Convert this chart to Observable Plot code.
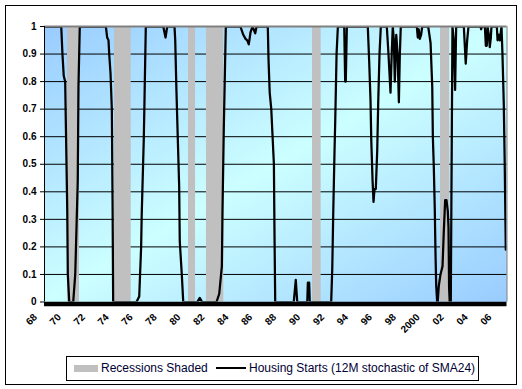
<!DOCTYPE html>
<html>
<head>
<meta charset="utf-8">
<script src="https://cdn.jsdelivr.net/npm/d3@7"></script>
<script src="https://cdn.jsdelivr.net/npm/@observablehq/plot@0.6"></script>
<style>
  html, body { margin: 0; padding: 0; background: #fff; }
  #wrap { position: relative; width: 522px; height: 389px; overflow: hidden; font-family: "Liberation Sans", Arial, sans-serif; }
  #wrap svg { position: absolute; left: 0; top: 0; }
  #outer { position: absolute; left: 5px; top: 5px; width: 512px; height: 380px; border: 1px solid #000; box-sizing: border-box; pointer-events: none; }
  #legend { position: absolute; left: 66px; top: 356px; width: 413px; height: 25px; border: 1px solid #000; box-sizing: border-box; background: #fff; font-size: 12px; color: #000033; }
  #legend span { position: absolute; white-space: nowrap; }
</style>
</head>
<body>
<div id="wrap">
  <div id="outer"></div>
</div>
<script>
// ---- data ----
const yTicks = [0, 0.1, 0.2, 0.3, 0.4, 0.5, 0.6, 0.7, 0.8, 0.9, 1];
const xTickYears = [1968, 1970, 1972, 1974, 1976, 1978, 1980, 1982, 1984, 1986, 1988, 1990, 1992, 1994, 1996, 1998, 2000, 2002, 2004, 2006];
const xTickLabels = ["68", "70", "72", "74", "76", "78", "80", "82", "84", "86", "88", "90", "92", "94", "96", "98", "2000", "02", "04", "06"];

const recStart = [1969.92, 1973.85, 1980.04, 1981.54, 1990.41, 2001.11];
const recEnd   = [1970.93, 1975.25, 1980.63, 1982.99, 1991.13, 2001.88];

const housingT = [1968.00, 1969.40, 1969.50, 1969.61, 1969.73, 1969.78, 1969.90, 1969.95, 1970.07, 1970.40, 1970.57, 1970.78, 1970.84, 1970.95,
  1973.13, 1973.24, 1973.35, 1973.41, 1973.52, 1973.63, 1973.69, 1973.74,
  1975.69, 1975.92, 1976.08, 1976.13, 1976.30, 1976.36, 1976.47,
  1977.93, 1978.12, 1978.26,
  1978.87, 1978.93, 1979.03, 1979.14, 1979.26, 1979.31, 1979.48, 1979.60,
  1980.77, 1980.98, 1981.18,
  1982.38, 1982.61, 1982.83, 1982.88, 1982.99, 1983.16,
  1984.38, 1984.62, 1984.81, 1984.95, 1985.08, 1985.23, 1985.39, 1985.62, 1985.73,
  1986.67, 1986.73, 1986.83, 1986.96, 1987.07, 1987.18, 1987.23, 1987.29,
  1988.84, 1989.01, 1989.13,
  1989.97, 1990.02, 1990.13, 1990.18,
  1991.97, 1992.06, 1992.14, 1992.25, 1992.31, 1992.42, 1992.53,
  1993.06, 1993.14, 1993.19, 1993.28,
  1995.03, 1995.15, 1995.26, 1995.32, 1995.43, 1995.51, 1995.59, 1995.70, 1995.82, 1995.90, 1996.01, 1996.12,
  1996.62, 1996.76, 1996.93, 1997.03, 1997.12, 1997.21, 1997.29, 1997.41, 1997.52, 1997.63, 1997.71, 1997.79,
  1999.13, 1999.21, 1999.29, 1999.38, 1999.49, 1999.58,
  2000.08, 2000.28, 2000.42, 2000.47, 2000.55, 2000.63, 2000.69, 2000.75, 2000.83,
  2000.88, 2000.97, 2001.11, 2001.28, 2001.38, 2001.50, 2001.61, 2001.72, 2001.78, 2001.83, 2001.88,
  2001.97, 2002.11, 2002.22, 2002.33, 2002.42,
  2003.06, 2003.22, 2003.34, 2003.45,
  2004.45, 2004.51, 2004.56,
  2004.82, 2004.90, 2004.98, 2005.04, 2005.15, 2005.23, 2005.32, 2005.37,
  2005.82, 2005.88, 2005.98, 2006.07, 2006.15, 2006.21, 2006.29, 2006.40, 2006.48, 2006.57];

const housingV = [1, 1, .90, .82, .80, .66, .34, .10, 0, 0, .10, .44, .78, 1,
  1, .96, .95, .90, .83, .70, .37, 0,
  0, .02, .20, .32, .59, .73, 1,
  1, .96, 1,
  1, .95, .77, .60, .42, .22, .10, 0,
  0, .015, 0,
  0, .03, .13, .32, .63, 1,
  1, .97, .955, .95, .935, .98, 1, .975, 1,
  1, .88, .76, .70, .60, .50, .25, 0,
  0, .08, 0,
  0, .07, .07, 0,
  0, .12, .32, .55, .66, .90, 1,
  1, .80, .80, 1,
  1, .87, .73, .59, .44, .363, .41, .41, .55, .72, .90, 1,
  1, .90, .76, .90, 1, .95, .80, .97, .90, .725, .90, 1,
  1, .96, .99, .955, .97, 1,
  1, .94, .78, .60, .49, .34, .18, .06, 0,
  0, .06, .10, .13, .25, .37, .37, .33, .27, .05, 0,
  0, 1, .95, .77, 1,
  1, .865, .95, 1,
  1, .99, 1,
  1, .93, .93, 1, .97, .925, .96, 1,
  1, .95, .97, .95, .98, 1, .90, .72, .50, .19];

// ---- tables built from the arrays ----
const housing = housingT.map((t, i) => ({t, v: housingV[i]}));
const recessions = recStart.map((s, i) => ({start: s, end: recEnd[i]}));

const font = '"Liberation Sans", Arial, sans-serif';

const svg = Plot.plot({
  width: 522,
  height: 389,
  marginLeft: 44,
  marginRight: 15.5,
  marginTop: 26,
  marginBottom: 87.5,
  x: {domain: [1968, 2006.67]},
  y: {domain: [0, 1]},
  style: {fontFamily: font, background: "transparent", overflow: "visible", color: "#000"},
  marks: [
    Plot.frame({fill: "url(#plotbg)", stroke: null}),
    Plot.gridY(yTicks.filter(d => d > 0 && d < 1), {stroke: "#000", strokeOpacity: 1, strokeWidth: 1}),
    Plot.rect(recessions, {x1: "start", x2: "end", y1: 0, y2: 1, fill: "#c0c0c0"}),
    Plot.line(housing, {x: "t", y: "v", stroke: "#000", strokeWidth: 2.25, clip: true}),
    Plot.ruleY([1], {stroke: "#808080", strokeWidth: 2}),
    Plot.ruleX([2006.67], {stroke: "#808080", strokeWidth: 1}),
    Plot.ruleX([1968], {stroke: "#000", strokeWidth: 1}),
    Plot.ruleY([0], {stroke: "#000", strokeWidth: 4.5, dy: 2}),
    Plot.axisY(yTicks, {
      label: null,
      tickSize: 4, tickPadding: 4,
      tickFormat: d => String(+d.toFixed(1)),
      fontWeight: "bold", fontSize: 10, fill: "#000", stroke: "#000"
    }),
    Plot.axisX(xTickYears, {
      label: null,
      tickSize: 0, tickPadding: 13.5,
      tickRotate: -45,
      textAnchor: "end",
      dx: -9,
      tickFormat: d => xTickLabels[xTickYears.indexOf(d)],
      fontWeight: "bold", fontSize: 10, fill: "#000"
    })
  ]
});

// background gradient definition
d3.select(svg).insert("defs", ":first-child").html(
  '<linearGradient id="plotbg" x1="0" y1="0" x2="1" y2="1">' +
  '<stop offset="0" stop-color="#99ccff"/>' +
  '<stop offset="0.5" stop-color="#ccffff"/>' +
  '<stop offset="1" stop-color="#99ccff"/>' +
  '</linearGradient>'
);

const wrap = document.getElementById("wrap");
wrap.insertBefore(svg, wrap.firstChild);

// legend (HTML, below the plot area)
const legend = document.createElement("div");
legend.id = "legend";
legend.innerHTML =
  '<span style="left:7px;top:8px;width:24px;height:7px;background:#c0c0c0;"></span>' +
  '<span style="left:34px;top:4px;line-height:14px;">Recessions Shaded</span>' +
  '<span style="left:149px;top:10px;width:30px;height:2px;background:#000;"></span>' +
  '<span style="left:182px;top:4px;line-height:14px;">Housing Starts (12M stochastic of SMA24)</span>';
wrap.appendChild(legend);
</script>
</body>
</html>
